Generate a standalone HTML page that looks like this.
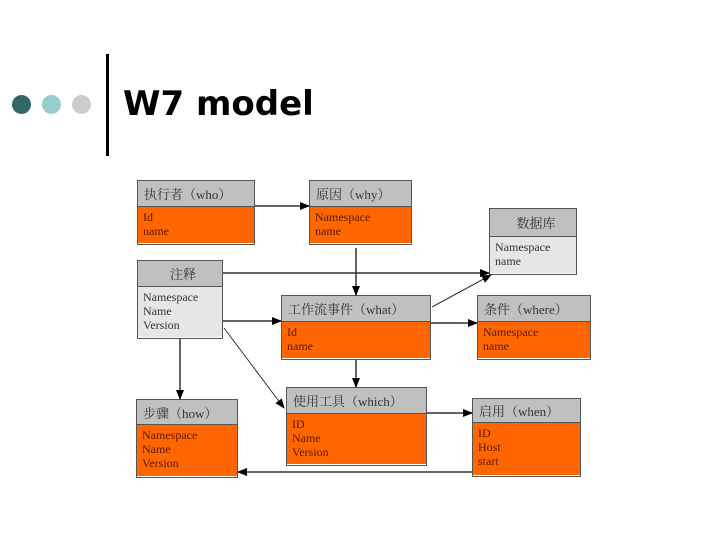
<!DOCTYPE html>
<html><head><meta charset="utf-8"><style>
body{margin:0;width:720px;height:540px;background:#fff;position:relative;overflow:hidden;font-family:"Liberation Serif","Noto Serif CJK SC",serif}
.b{position:absolute;border:1.5px solid #555;box-sizing:border-box}
.h{background:#c0c0c0;border-bottom:1.5px solid #555;box-sizing:border-box;font-size:13px;color:#333;padding-left:6px;display:flex;align-items:center}
.c{background:#ff6600;font-size:12px;line-height:14px;color:#5a1a00;padding:3px 5px;box-sizing:border-box}
.l{background:#e6e6e6;color:#333}
.dot{position:absolute;width:19px;height:19px;border-radius:50%;top:95px}
</style></head><body>
<div class="dot" style="left:12px;background:#336666"></div>
<div class="dot" style="left:42px;background:#99cccc"></div>
<div class="dot" style="left:72px;background:#cccccc"></div>
<div style="position:absolute;left:106px;top:54px;width:3px;height:102px;background:#000"></div>
<div style="position:absolute;left:123px;top:84px;font:bold 34px 'DejaVu Sans',sans-serif;color:#000">W7 model</div>

<div class="b" style="left:137px;top:180px;width:118px;height:65px"><div class="h" style="height:26px">执行者（who）</div><div class="c" style="height:36px">Id<br>name</div></div>
<div class="b" style="left:309px;top:180px;width:103px;height:65px"><div class="h" style="height:26px">原因（why）</div><div class="c" style="height:36px">Namespace<br>name</div></div>
<div class="b" style="left:489px;top:208px;width:88px;height:67px"><div class="h" style="height:28px;justify-content:center">数据库</div><div class="c l" style="height:36px">Namespace<br>name</div></div>
<div class="b" style="left:137px;top:260px;width:86px;height:79px"><div class="h" style="height:26px;justify-content:center">注释</div><div class="c l" style="height:50px">Namespace<br>Name<br>Version</div></div>
<div class="b" style="left:281px;top:295px;width:150px;height:65px"><div class="h" style="height:26px">工作流事件（what）</div><div class="c" style="height:36px">Id<br>name</div></div>
<div class="b" style="left:477px;top:295px;width:114px;height:65px"><div class="h" style="height:26px">条件（where）</div><div class="c" style="height:36px">Namespace<br>name</div></div>
<div class="b" style="left:136px;top:399px;width:102px;height:79px"><div class="h" style="height:25px">步骤（how）</div><div class="c" style="height:51px">Namespace<br>Name<br>Version</div></div>
<div class="b" style="left:286px;top:387px;width:141px;height:79px"><div class="h" style="height:26px">使用工具（which）</div><div class="c" style="height:50px">ID<br>Name<br>Version</div></div>
<div class="b" style="left:472px;top:398px;width:109px;height:79px"><div class="h" style="height:24px">启用（when）</div><div class="c" style="height:52px">ID<br>Host<br>start</div></div>

<svg width="720" height="540" style="position:absolute;left:0;top:0">
<defs><marker id="a" markerWidth="10" markerHeight="8" refX="9" refY="4" orient="auto" markerUnits="userSpaceOnUse"><path d="M0,0L10,4L0,8z" fill="#000"/></marker></defs>
<g stroke="#333" stroke-width="1.5" fill="none" marker-end="url(#a)">
<line x1="255" y1="206" x2="309" y2="206"/>
<line x1="356" y1="248" x2="356" y2="295"/>
<line x1="223" y1="273" x2="489" y2="273"/>
<line x1="432" y1="307" x2="491" y2="275" stroke-width="1"/>
<line x1="223" y1="321" x2="281" y2="321"/>
<line x1="431" y1="323" x2="477" y2="323"/>
<line x1="180" y1="339" x2="180" y2="399"/>
<line x1="224" y1="328" x2="284" y2="408" stroke-width="1"/>
<line x1="356" y1="360" x2="356" y2="387"/>
<line x1="427" y1="413" x2="472" y2="413"/>
<line x1="472" y1="472" x2="238" y2="472"/>
</g></svg>
</body></html>
